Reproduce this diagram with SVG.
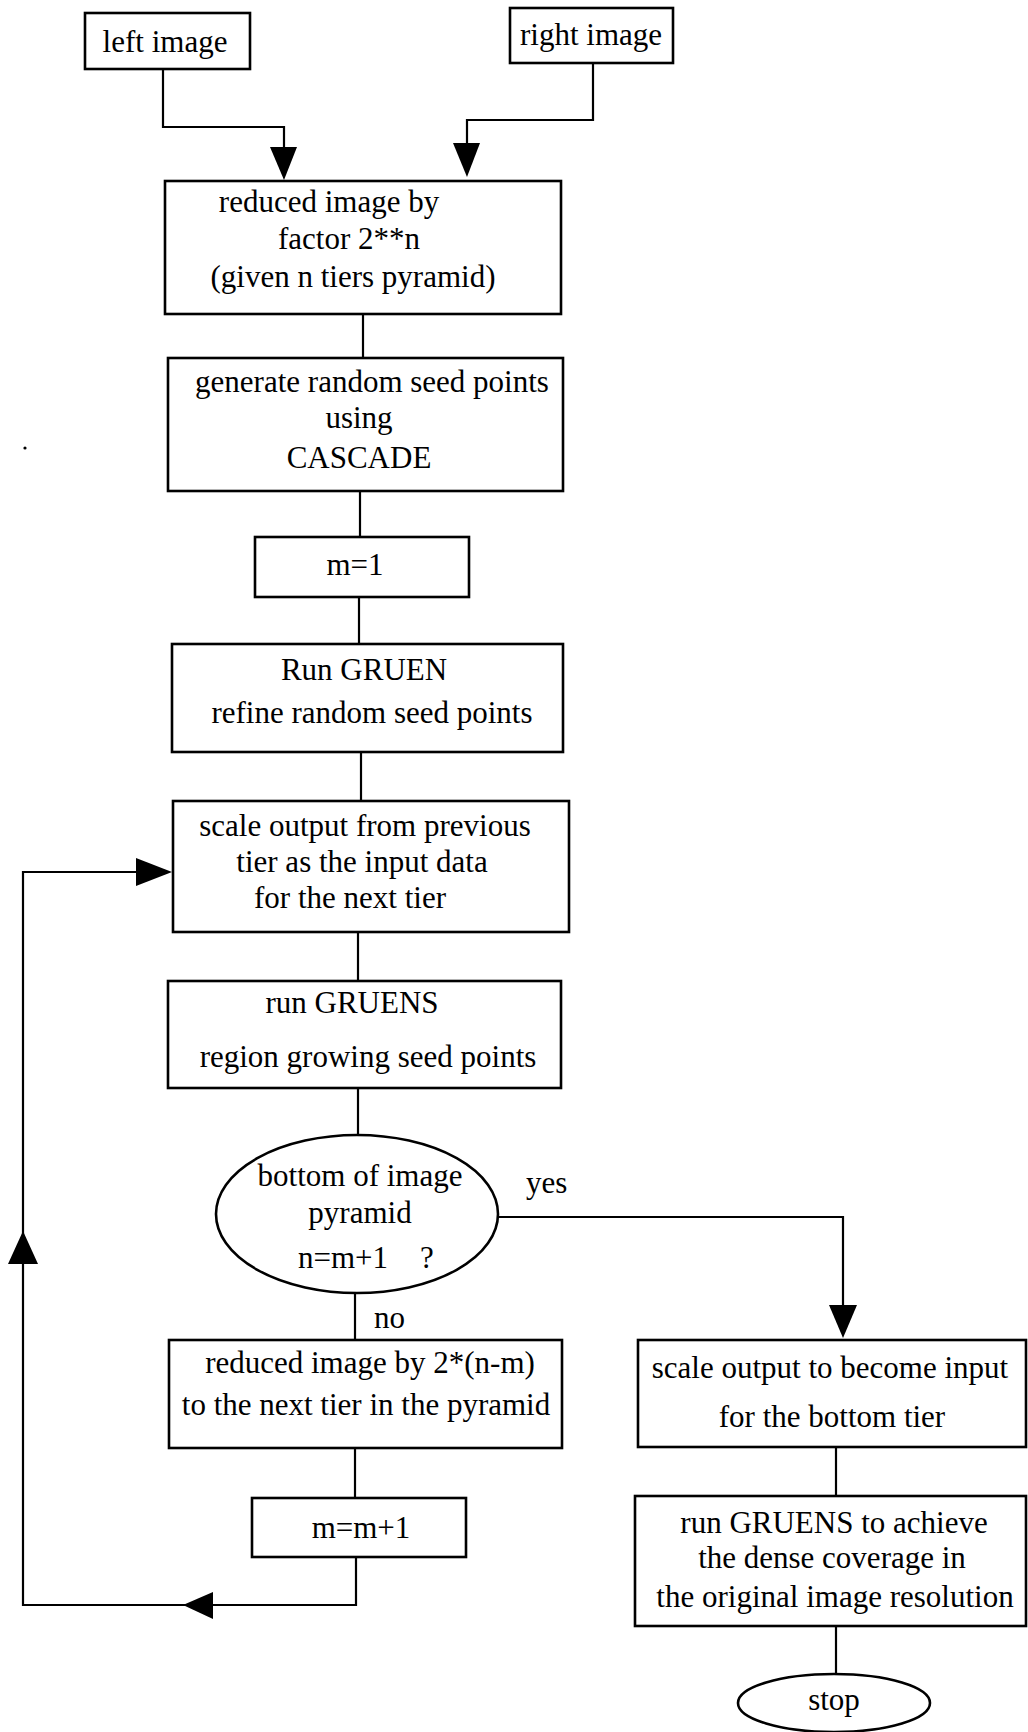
<svg xmlns="http://www.w3.org/2000/svg" width="1028" height="1732" viewBox="0 0 1028 1732">
  <style>
    .box { fill: #ffffff; stroke: #000000; stroke-width: 2.6; }
    .wire { fill: none; stroke: #000000; stroke-width: 2.2; }
    .head { fill: #000000; stroke: none; }
    text { font-family: "Liberation Serif", "Times New Roman", serif; font-size: 31px; fill: #000000; }
    .c { text-anchor: middle; }
  </style>
  <rect width="1028" height="1732" fill="#ffffff"/>

  <!-- connectors -->
  <g id="connectors">
    <polyline class="wire" points="163,69 163,127 284,127 284,150"/>
    <polygon class="head" points="270,147 297,147 284,180"/>
    <polyline class="wire" points="593,63 593,120 467,120 467,146"/>
    <polygon class="head" points="453,143 480,143 467,177"/>
    <line class="wire" x1="363" y1="314" x2="363" y2="358"/>
    <line class="wire" x1="360" y1="491" x2="360" y2="537"/>
    <line class="wire" x1="359" y1="597" x2="359" y2="644"/>
    <line class="wire" x1="361" y1="752" x2="361" y2="801"/>
    <line class="wire" x1="358" y1="932" x2="358" y2="981"/>
    <line class="wire" x1="358" y1="1088" x2="358" y2="1136"/>
    <!-- yes branch -->
    <polyline class="wire" points="498,1217 843,1217 843,1308"/>
    <polygon class="head" points="829,1305 857,1305 843,1338"/>
    <!-- no branch -->
    <line class="wire" x1="355" y1="1293" x2="355" y2="1340"/>
    <line class="wire" x1="355" y1="1448" x2="355" y2="1498"/>
    <!-- loop back to the next tier -->
    <polyline class="wire" points="356,1557 356,1605 23,1605 23,872 140,872"/>
    <polygon class="head" points="213,1592 213,1619 183,1605"/>
    <polygon class="head" points="8,1264 38,1264 23,1231"/>
    <polygon class="head" points="136,858 136,886 172,872"/>
    <!-- right column -->
    <line class="wire" x1="836" y1="1447" x2="836" y2="1496"/>
    <line class="wire" x1="836" y1="1626" x2="836" y2="1674"/>
  </g>

  <g id="left-image">
    <rect class="box" x="85" y="13" width="165" height="56"/>
    <text class="c" x="165" y="52">left image</text>
  </g>

  <g id="right-image">
    <rect class="box" x="510" y="8" width="163" height="55"/>
    <text class="c" x="591" y="45">right image</text>
  </g>

  <g id="reduce-image">
    <rect class="box" x="165" y="181" width="396" height="133"/>
    <text class="c" x="329" y="212">reduced image by</text>
    <text class="c" x="349" y="249">factor 2**n</text>
    <text class="c" x="353" y="287">(given n tiers pyramid)</text>
  </g>

  <g id="seed-points">
    <rect class="box" x="168" y="358" width="395" height="133"/>
    <text class="c" x="372" y="392">generate random seed points</text>
    <text class="c" x="359" y="428">using</text>
    <text class="c" x="359" y="468">CASCADE</text>
  </g>

  <g id="m-init">
    <rect class="box" x="255" y="537" width="214" height="60"/>
    <text class="c" x="355" y="575">m=1</text>
  </g>

  <g id="run-gruen">
    <rect class="box" x="172" y="644" width="391" height="108"/>
    <text class="c" x="364" y="680">Run GRUEN</text>
    <text class="c" x="372" y="723">refine random seed points</text>
  </g>

  <g id="scale-output">
    <rect class="box" x="173" y="801" width="396" height="131"/>
    <text class="c" x="365" y="836">scale output from previous</text>
    <text class="c" x="362" y="872">tier as the input data</text>
    <text class="c" x="350" y="908">for the next tier</text>
  </g>

  <g id="run-gruens">
    <rect class="box" x="168" y="981" width="393" height="107"/>
    <text class="c" x="352" y="1013">run GRUENS</text>
    <text class="c" x="368" y="1067">region growing seed points</text>
  </g>

  <g id="bottom-test">
    <ellipse class="box" cx="357" cy="1214" rx="141" ry="79"/>
    <text class="c" x="360" y="1186">bottom of image</text>
    <text class="c" x="360" y="1223">pyramid</text>
    <text><tspan x="298" y="1268">n=m+1</tspan><tspan x="420" y="1268">?</tspan></text>
    <text x="526" y="1193">yes</text>
    <text x="374" y="1328">no</text>
  </g>

  <g id="reduce-next">
    <rect class="box" x="169" y="1340" width="393" height="108"/>
    <text class="c" x="370" y="1373">reduced image by 2*(n-m)</text>
    <text class="c" x="366" y="1415">to the next tier in the pyramid</text>
  </g>

  <g id="m-increment">
    <rect class="box" x="252" y="1498" width="214" height="59"/>
    <text class="c" x="361" y="1538">m=m+1</text>
  </g>

  <g id="scale-bottom">
    <rect class="box" x="638" y="1340" width="388" height="107"/>
    <text class="c" x="830" y="1378">scale output to become input</text>
    <text class="c" x="832" y="1427">for the bottom tier</text>
  </g>

  <g id="dense-coverage">
    <rect class="box" x="635" y="1496" width="391" height="130"/>
    <text class="c" x="834" y="1533">run GRUENS to achieve</text>
    <text class="c" x="832" y="1568">the dense coverage in</text>
    <text class="c" x="835" y="1607">the original image resolution</text>
  </g>

  <g id="stop">
    <ellipse class="box" cx="834" cy="1703" rx="96" ry="29"/>
    <text class="c" x="834" y="1710">stop</text>
  </g>

  <circle cx="25" cy="448" r="1.6" fill="#000000"/>
</svg>
